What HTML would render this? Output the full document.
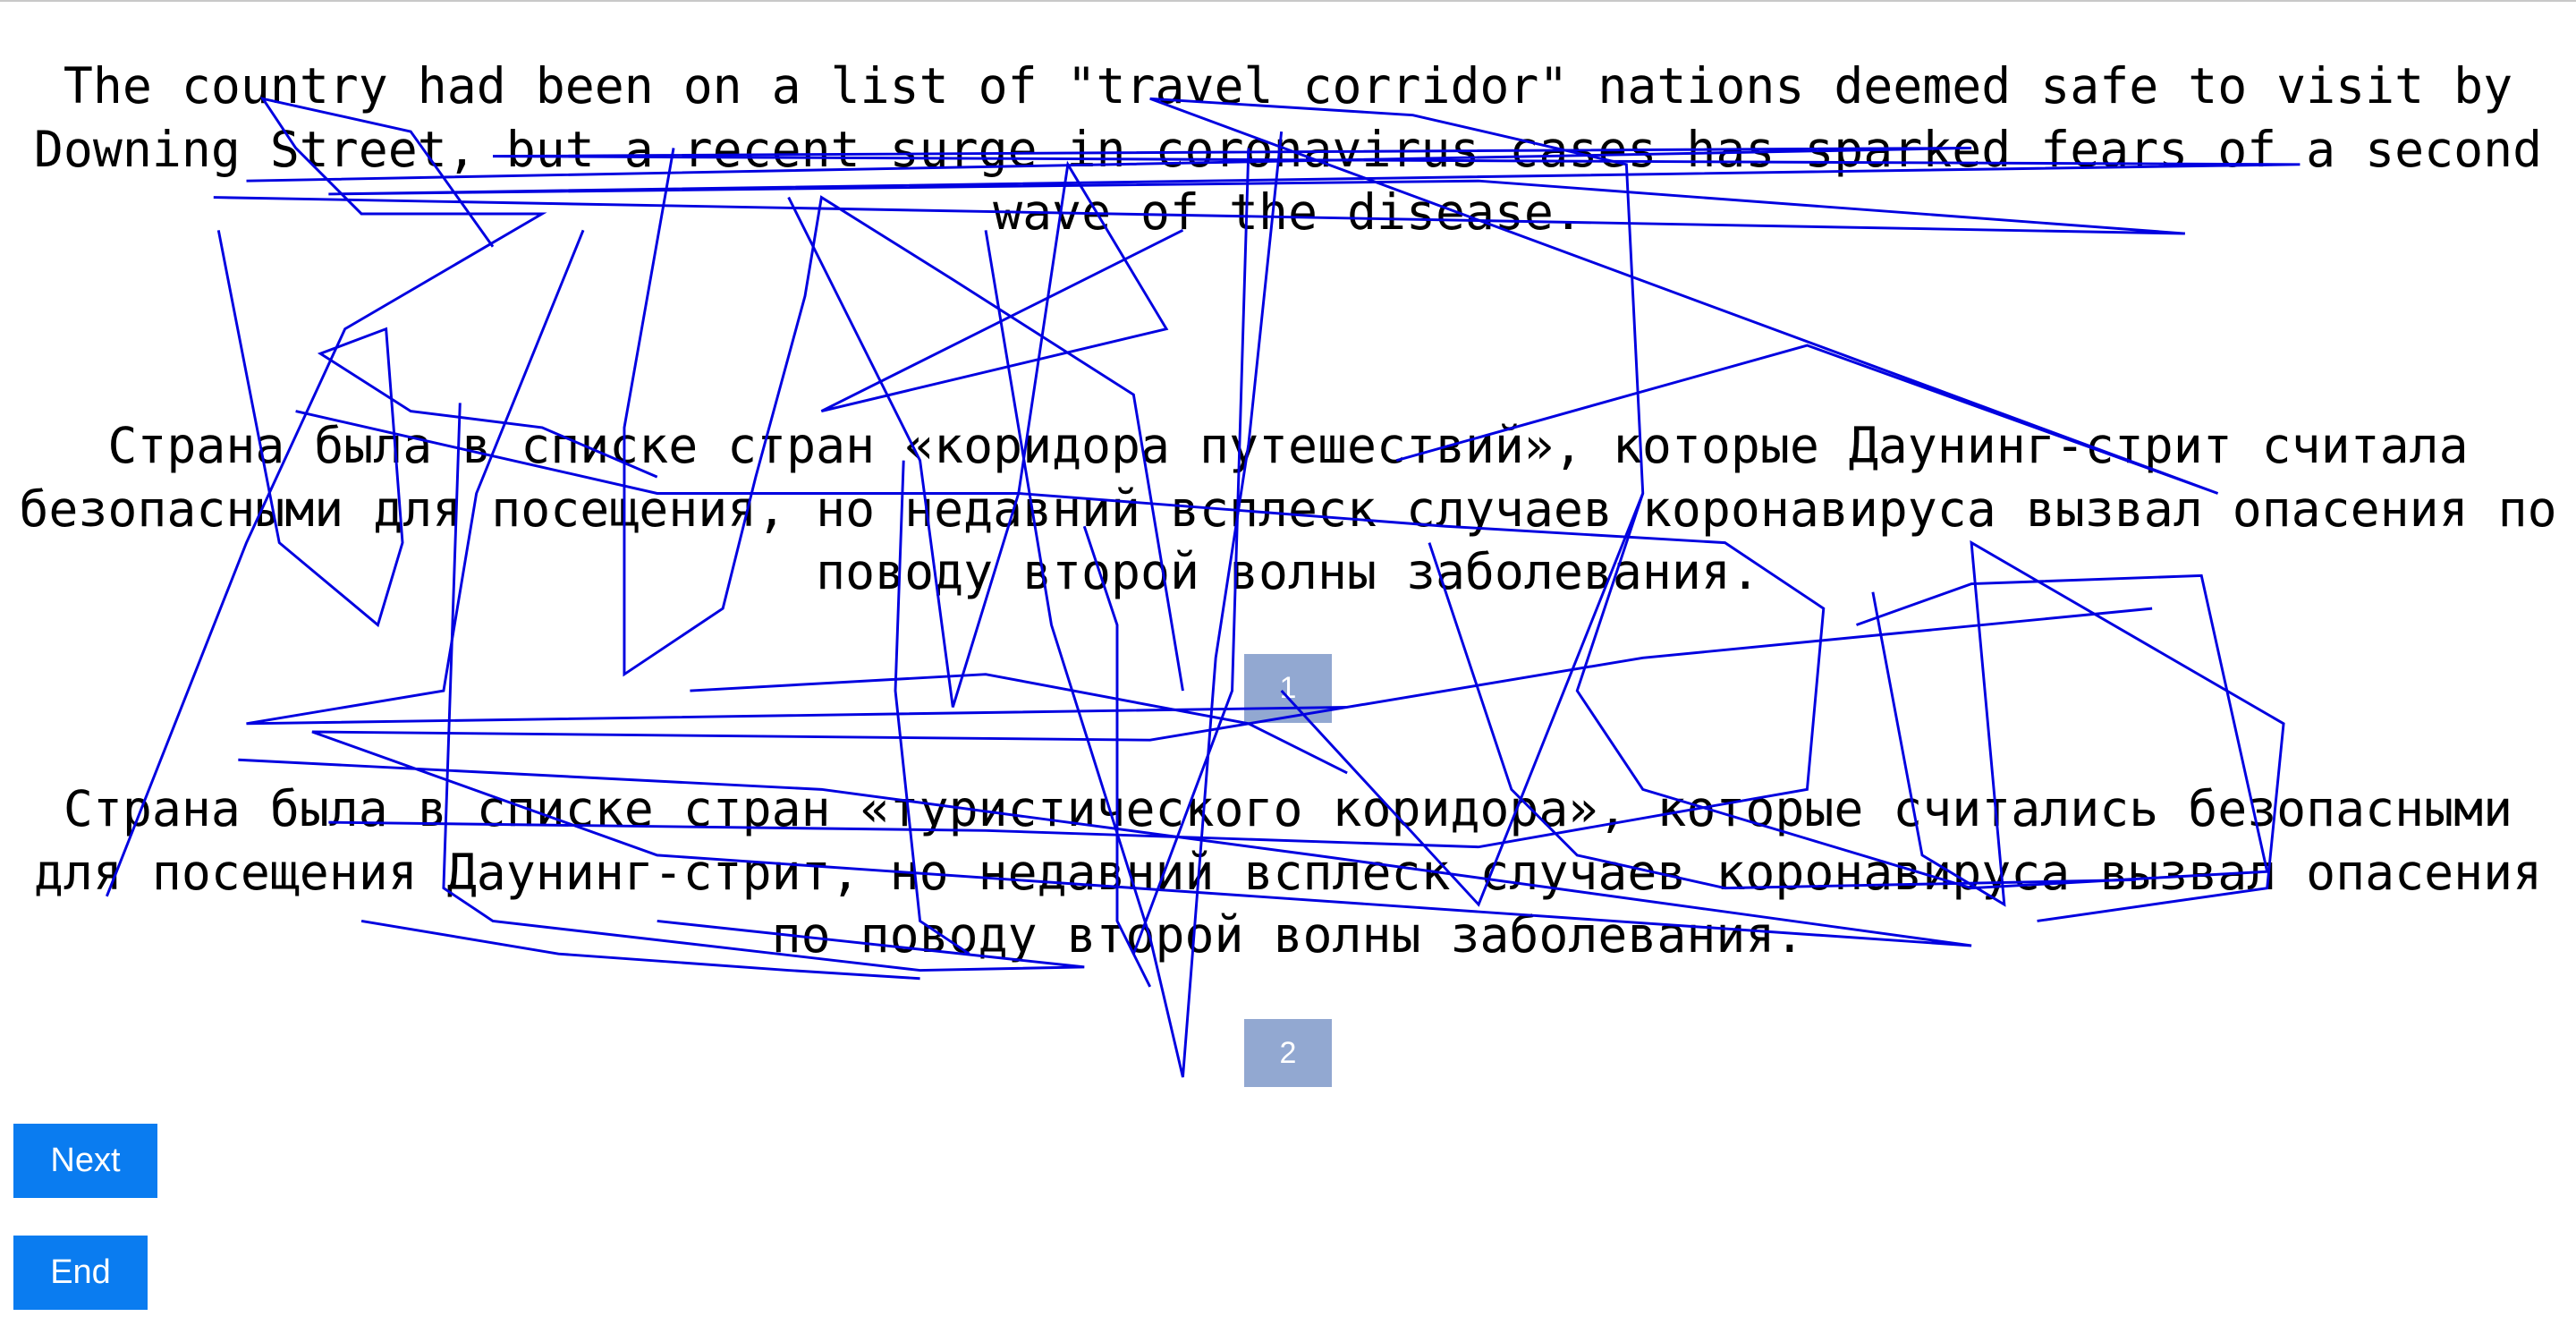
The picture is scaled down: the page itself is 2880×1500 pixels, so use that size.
<!DOCTYPE html>
<html><head><meta charset="utf-8"><style>
html,body{margin:0;padding:0;background:#fff;width:2880px;height:1500px;overflow:hidden;position:relative}
.top{position:absolute;left:0;top:0;width:2880px;height:2px;background:#c8c8c8}
.p{position:absolute;left:0;width:2880px;text-align:center;font-family:"DejaVu Sans Mono","Liberation Mono",monospace;font-size:54.8px;line-height:70.7px;color:#000}
.b{position:absolute;background:#92a8d1;color:#fff;font-family:"Liberation Sans",sans-serif;font-size:34px;text-align:center;line-height:77px;width:98px;height:77px;left:1391px}
.btn{position:absolute;left:15px;background:#0a7cf0;color:#fff;font-family:"Liberation Sans",sans-serif;font-size:38px;text-align:center}
svg{position:absolute;left:0;top:0}
</style></head><body>
<div class="top"></div>
<div class="p" style="top:61px">The country had been on a list of "travel corridor" nations deemed safe to visit by<br>Downing Street, but a recent surge in coronavirus cases has sparked fears of a second<br>wave of the disease.</div>
<div class="p" style="top:463px">Страна была в списке стран «коридора путешествий», которые Даунинг-стрит считала<br>безопасными для посещения, но недавний всплеск случаев коронавируса вызвал опасения по<br>поводу второй волны заболевания.</div>
<div class="p" style="top:869px">Страна была в списке стран «туристического коридора», которые считались безопасными<br>для посещения Даунинг-стрит, но недавний всплеск случаев коронавируса вызвал опасения<br>по поводу второй волны заболевания.</div>
<div class="b" style="top:731px">1</div>
<div class="b" style="top:1139px;height:76px">2</div>
<div class="btn" style="top:1256px;width:161px;height:83px;line-height:83px">Next</div>
<div class="btn" style="top:1381px;width:150px;height:83px;line-height:83px">End</div>
<svg width="2880" height="1500" viewBox="0 0 1568 816" preserveAspectRatio="none">
<g fill="none" stroke="#0000e0" stroke-width="1.6">
<path d="M130 120 L1330 142 L900 110 L200 118 L1400 100 L300 95 L1200 90 L150 110"/>
<path d="M65 545 L150 330 L210 200 L330 130 L220 130 L180 90 L160 60 L250 80 L300 150"/>
<path d="M133 140 L170 330 L230 380 L245 330 L235 200 L195 215 L250 250 L330 260 L400 290"/>
<path d="M280 245 L270 540 L300 560 L560 590 L660 588 L400 560"/>
<path d="M355 140 L290 300 L270 420 L150 440 L820 430"/>
<path d="M410 90 L380 260 L380 410 L440 370 L460 290 L490 180 L500 120 L580 170 L690 240 L720 420"/>
<path d="M480 120 L560 280 L580 430 L620 300 L650 100 L710 200 L500 250 L640 180 L720 140"/>
<path d="M600 140 L640 380 L700 570 L720 655 L740 400 L760 270 L780 80"/>
<path d="M760 90 L750 420 L690 580"/>
<path d="M780 420 L900 550 L1000 300 L990 100 L860 70 L700 60 L1350 300 L1100 210 L850 280"/>
<path d="M1000 300 L960 420 L1000 480 L1100 510 L1200 540 L1380 530 L1340 350 L1200 355 L1130 380"/>
<path d="M1140 360 L1170 520 L1220 550 L1200 330 L1390 440 L1380 540 L1240 560"/>
<path d="M145 462 L500 480 L800 520 L1200 575 L400 520 L190 445 L700 450 L1000 400 L1310 370"/>
<path d="M200 500 L600 505 L900 515 L1100 480 L1110 370 L1050 330 L880 320 L620 300 L400 300 L180 250"/>
<path d="M870 330 L920 480 L960 520 L1050 540 L1300 535"/>
<path d="M550 280 L545 420 L560 560 L590 580"/>
<path d="M660 320 L680 380 L680 560 L700 600"/>
<path d="M420 420 L600 410 L760 440 L820 470"/>
<path d="M220 560 L340 580 L480 590 L560 595"/>
</g></svg>
</body></html>
